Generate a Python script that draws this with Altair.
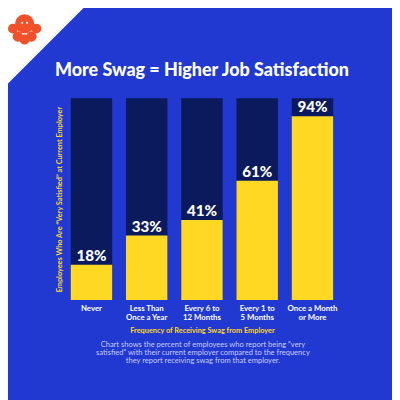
import altair as alt
import pandas as pd

categories = ["Never", "Less Than\nOnce a Year", "Every 6 to\n12 Months", "Every 1 to\n5 Months", "Once a Month\nor More"]
values = [18, 33, 41, 61, 94]

title_text = "More Swag = Higher Job Satisfaction"
y_title = "Employees Who Are \u201cVery Satisfied\u201d at Current Employer"
x_title = "Frequency of Receiving Swag from Employer"
caption = [
    "Chart shows the percent of employees who report being \u201cvery",
    "satisfied\u201d with their current employer compared to the frequency",
    "they report receiving swag from that employer.",
]

BLUE = "#2139d0"
NAVY = "#0b1a5c"
YELLOW = "#ffd823"
ORANGE = "#f0502a"
W, H = 282, 206

df = pd.DataFrame({"cat": categories, "val": values})
df["label"] = [f"{v}%" for v in values]

xenc = alt.X("cat:N", sort=categories,
             scale=alt.Scale(paddingInner=0.25, paddingOuter=0.125),
             axis=alt.Axis(title=x_title, labelAngle=0, labelColor="white",
                           labelFont="Lato", labelFontWeight="bold", labelFontSize=8,
                           labelLineHeight=9, labelPadding=5,
                           labelExpr="split(datum.label, '\\n')",
                           domain=False, ticks=False,
                           titleColor=YELLOW, titleFont="Lato", titleFontWeight="bold",
                           titleFontSize=7.5, titlePadding=5))
yscale = alt.Scale(domain=[0, 103.3])

base = alt.Chart(df)

back = base.mark_bar(color=NAVY).encode(
    x=xenc, y=alt.value(0), y2=alt.value(H))

bars = base.mark_bar(color=YELLOW).encode(
    x=xenc,
    y=alt.Y("val:Q", scale=yscale,
            axis=alt.Axis(title=y_title, labels=False, ticks=False, domain=False, grid=False,
                          titleColor=YELLOW, titleFont="Lato", titleFontWeight="bold",
                          titleFontSize=7.5, titlePadding=0)))

labels = base.mark_text(color="white", font="Lato", fontWeight=900, fontSize=15.5,
                        baseline="bottom", dy=-1).encode(
    x=xenc, y=alt.Y("val:Q", scale=yscale), text="label:N")

one = pd.DataFrame({"a": [0]})

title = alt.Chart(one).mark_text(
    text=title_text, color="white", font="Lato", fontWeight=900, fontSize=18.3,
    baseline="alphabetic", align="center").encode(x=alt.value(W / 2), y=alt.value(-23))

cap = alt.Chart(pd.DataFrame({"t": [caption]})).mark_text(
    color="#c9cdf5", font="Lato", fontSize=7.7, lineHeight=8.2, baseline="top", align="center").encode(
    x=alt.value(W / 2 + 1), y=alt.value(248), text="t")

# decorative corner with logo
tri = alt.Chart(one).mark_point(
    shape="M -1 -1 L 1 -1 L -1 1 Z", filled=True, color="white", opacity=1, strokeWidth=0).encode(
    x=alt.value(-20), y=alt.value(-52), size=alt.value(7900))

logo_layers = []
for (px, py, s, c) in [(-52, -71, 100, ORANGE), (-28, -71, 100, ORANGE),
                       (-47, -63, 110, ORANGE), (-33, -63, 110, ORANGE), (-40, -60, 110, ORANGE),
                       (-40, -76, 380, ORANGE),
                       (-42.5, -77, 5, "white"), (-37.5, -77, 5, "white")]:
    logo_layers.append(alt.Chart(one).mark_point(
        shape="circle", filled=True, color=c, opacity=1, strokeWidth=0).encode(
        x=alt.value(px), y=alt.value(py), size=alt.value(s)))

chart = alt.layer(back, bars, labels, title, cap, tri, *logo_layers).properties(
    width=W, height=H,
    background=BLUE,
    padding={"left": 57, "top": 88, "right": 53, "bottom": 98},
    autosize=alt.AutoSizeParams(type="none"),
).configure_view(stroke=None)

chart.save("out.html", embed_options={"renderer": "svg", "actions": False})
